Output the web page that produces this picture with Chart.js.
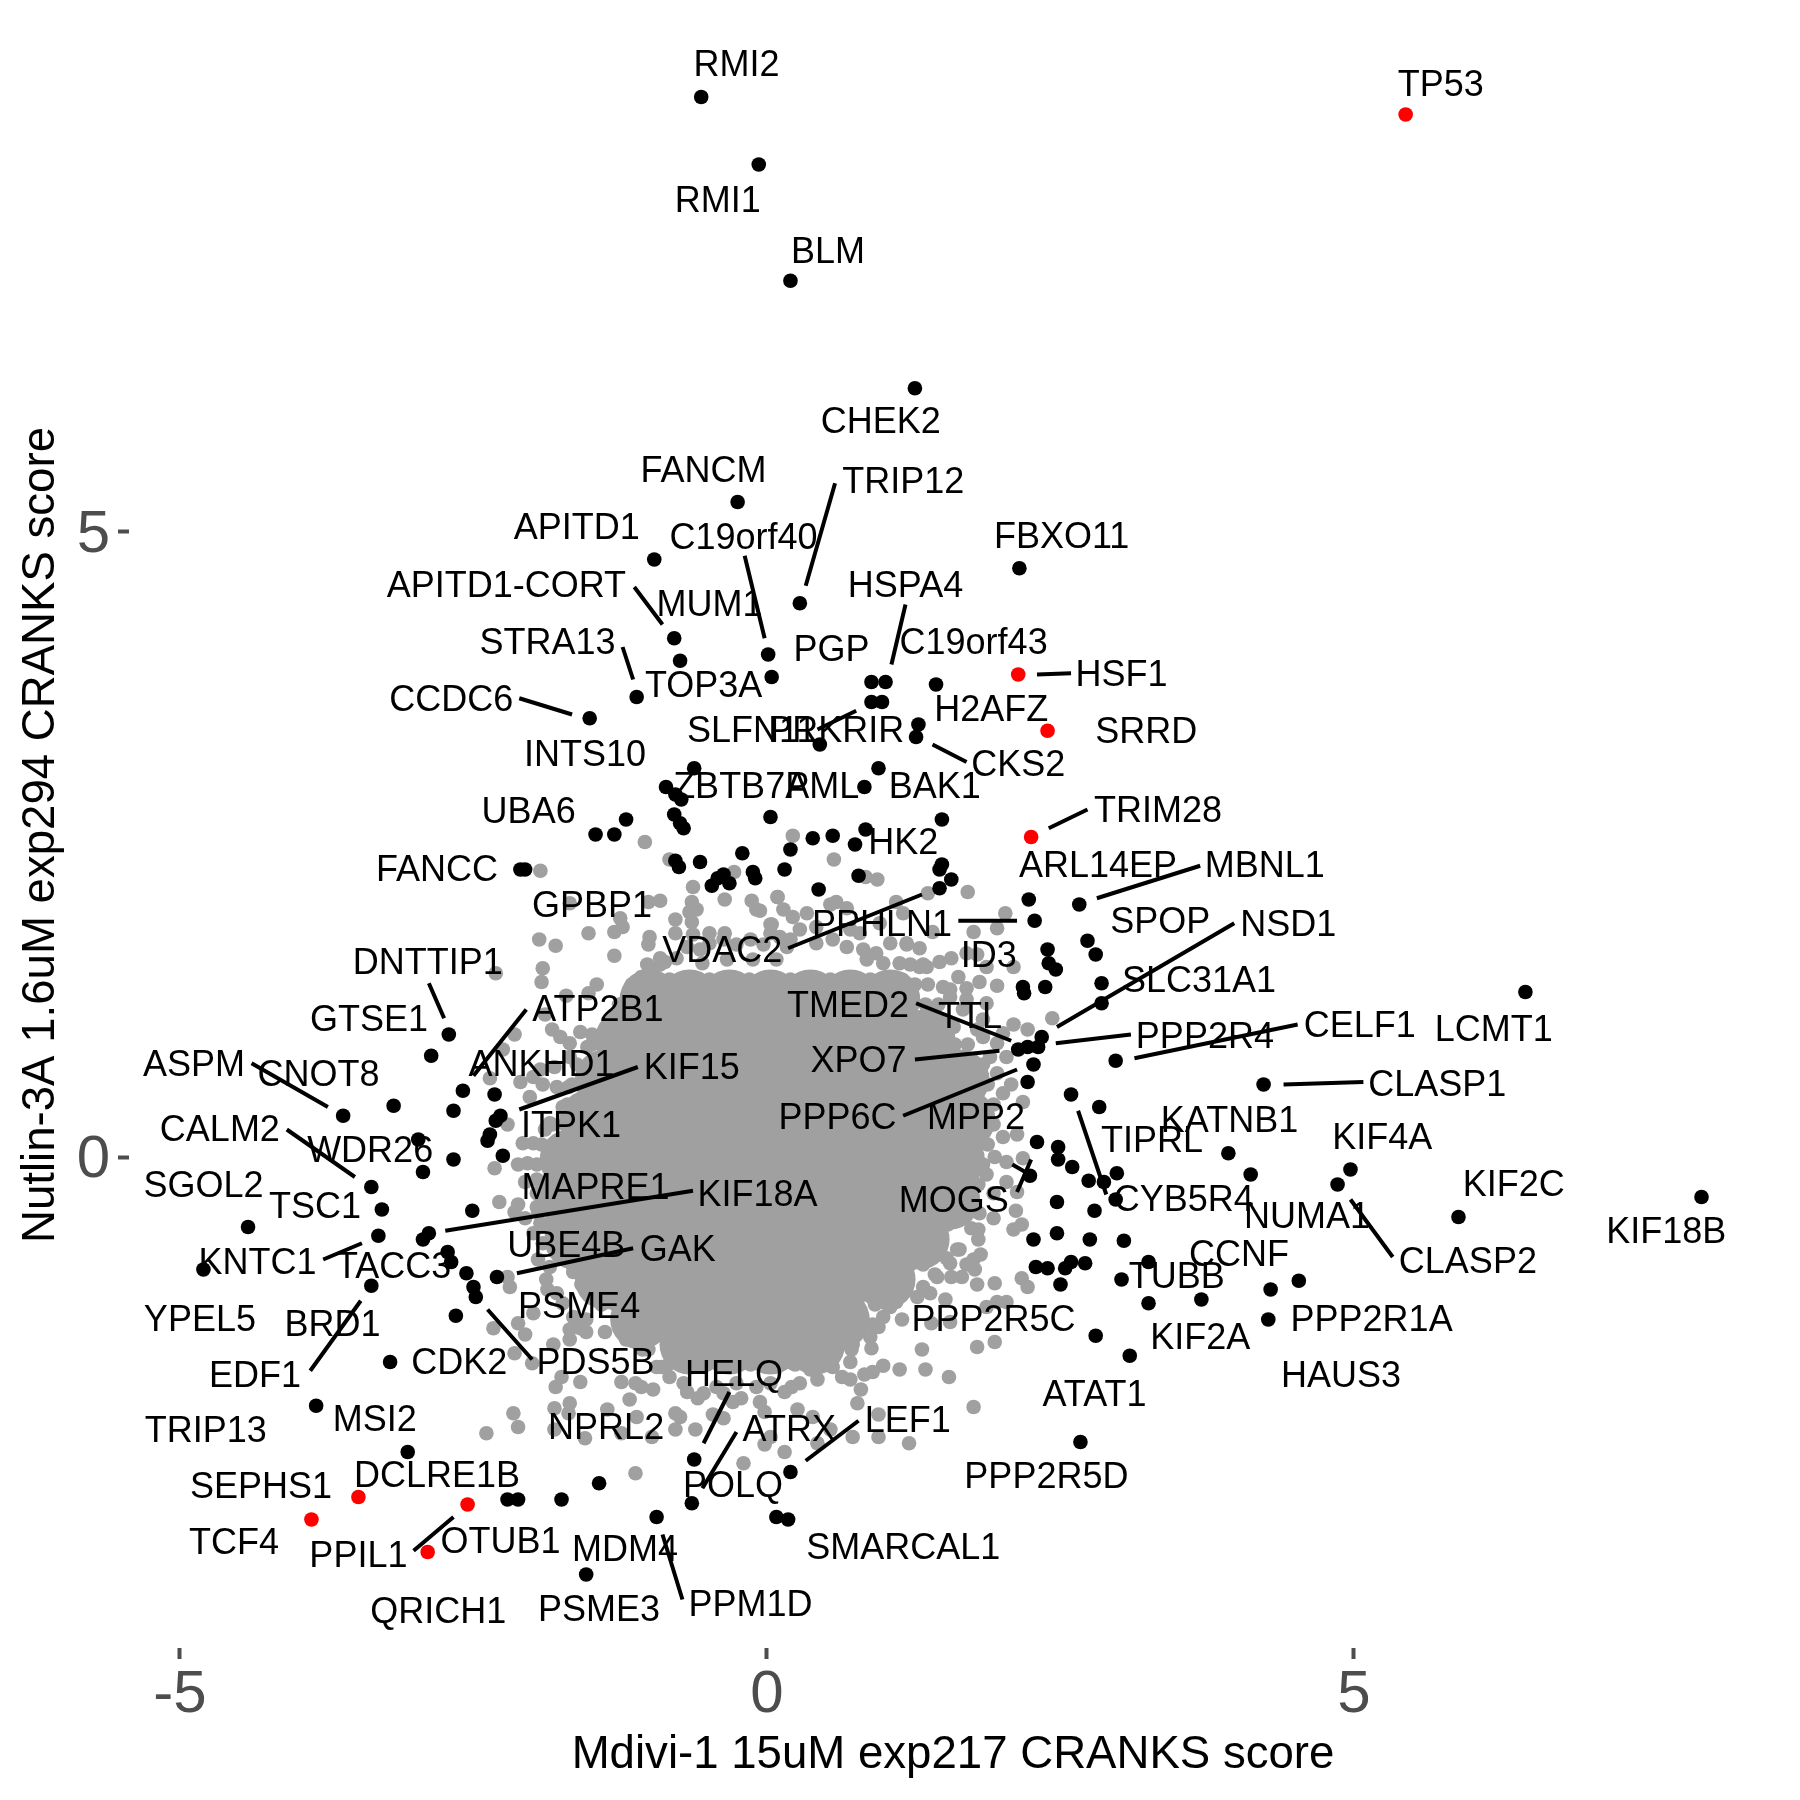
<!DOCTYPE html>
<html>
<head>
<meta charset="utf-8">
<title>CRANKS scores</title>
<script src="https://cdn.jsdelivr.net/npm/chart.js"></script>
<style>
body { margin: 0; background: #fff; }
canvas { display: block; }
</style>
</head>
<body>
<canvas id="scores" width="1800" height="1800"></canvas>
<script>
var xTickValues = [-5, 0, 5];
var yTickValues = [0, 5];
var xTitle = "Mdivi-1 15uM exp217 CRANKS score";
var yTitle = "Nutlin-3A 1.6uM exp294 CRANKS score";

// dense middle of the cloud, single genes cannot be read there, so these are coarse fill dots
var coreX = [-1.00,-0.66,-0.32,0.03,0.37,0.71,1.05,
	-1.21,-0.87,-0.53,-0.19,0.15,0.49,0.83,1.18,1.35,
	-1.38,-1.04,-0.70,-0.36,-0.02,0.32,0.66,1.01,1.35,1.64,
	-1.51,-1.17,-0.83,-0.49,-0.14,0.20,0.54,0.88,1.22,1.56,1.69,
	-1.68,-1.34,-1.00,-0.66,-0.32,0.03,0.37,0.71,1.05,1.39,1.60,
	-1.68,-1.34,-1.00,-0.66,-0.32,0.03,0.37,0.71,1.05,1.39,1.56,
	-1.64,-1.29,-0.95,-0.61,-0.27,0.07,0.41,0.75,1.09,1.30,
	-1.38,-1.04,-0.70,-0.36,-0.02,0.32,0.66,1.01,
	-1.08,-0.74,-0.40,-0.06,0.28,0.62,
	-0.66,-0.32,0.03,0.41];
var coreY = [1.26,1.26,1.26,1.26,1.26,1.26,1.26,
	0.94,0.94,0.94,0.94,0.94,0.94,0.94,0.94,0.94,
	0.62,0.62,0.62,0.62,0.62,0.62,0.62,0.62,0.62,0.62,
	0.30,0.30,0.30,0.30,0.30,0.30,0.30,0.30,0.30,0.30,0.30,
	-0.02,-0.02,-0.02,-0.02,-0.02,-0.02,-0.02,-0.02,-0.02,-0.02,-0.02,
	-0.34,-0.34,-0.34,-0.34,-0.34,-0.34,-0.34,-0.34,-0.34,-0.34,-0.34,
	-0.66,-0.66,-0.66,-0.66,-0.66,-0.66,-0.66,-0.66,-0.66,-0.66,
	-0.98,-0.98,-0.98,-0.98,-0.98,-0.98,-0.98,-0.98,
	-1.30,-1.30,-1.30,-1.30,-1.30,-1.30,
	-1.50,-1.50,-1.50,-1.50];

// rim of the solid area
var edgeX = [-1.02,-0.91,1.33,1.22,-1.15,-1.04,1.37,1.26,-1.26,-1.15,1.46,1.35,-1.32,-1.21,1.54,1.43,-1.49,-1.38,1.71,1.60,-1.62,-1.51,1.84,1.73,
	-1.66,-1.55,1.88,1.77,-1.70,-1.59,1.93,1.81,-1.83,-1.72,1.93,1.81,-1.92,-1.81,1.88,1.77,-1.96,-1.85,1.84,1.73,-1.87,-1.76,1.80,1.69,
	-1.92,-1.81,1.71,1.60,-1.90,-1.79,1.54,1.43,-1.79,-1.68,1.46,1.35,-1.66,-1.55,1.33,1.22,-1.58,-1.47,1.16,1.05,-1.41,-1.29,1.03,0.92,
	-1.19,-1.08,0.90,0.79,-0.81,-0.70,0.73,0.62,-0.51,-0.40,-0.27,-0.14,-0.02,0.11,0.24,0.37,
	-0.83,-0.49,-0.15,0.20,0.54,0.88,1.15,
	-0.87,-0.77,-0.68,-0.57,-0.49,-0.37,-0.26,-0.14,-0.03,0.11,0.17,-0.55,-0.34,-0.12,0.08,
	0.22,0.34,0.28,0.42,0.56,0.68,0.82,0.93,1.05,1.19,0.85,0.99,1.13,1.30,0.20,0.42,0.71,0.79,0.96,0.03,
	-1.88,-1.79,-1.74,-1.65,-1.54,-1.68,-1.85,-1.20,-1.06,-0.94,-0.83,-0.71,-0.54,-0.37,-0.26,-0.09,0.03,
	0.22,0.37,0.54,0.88,1.05,1.28,1.33,1.45,1.56,1.62,
	1.84,1.90,1.67,1.56,1.79,
	-1.68,-1.53,-1.93,-1.79,-1.85,-1.99,-2.04,-1.96,-1.96,-1.96,-1.93,-1.91];
var edgeY = [1.54,1.54,1.54,1.54,1.38,1.38,1.38,1.38,1.22,1.22,1.22,1.22,1.06,1.06,1.06,1.06,0.90,0.90,0.90,0.90,0.74,0.74,0.74,0.74,
	0.58,0.58,0.58,0.58,0.42,0.42,0.42,0.42,0.26,0.26,0.26,0.26,0.10,0.10,0.10,0.10,-0.06,-0.06,-0.06,-0.06,-0.22,-0.22,-0.22,-0.22,
	-0.38,-0.38,-0.38,-0.38,-0.54,-0.54,-0.54,-0.54,-0.70,-0.70,-0.70,-0.70,-0.86,-0.86,-0.86,-0.86,-1.02,-1.02,-1.02,-1.02,-1.18,-1.18,-1.18,-1.18,
	-1.34,-1.34,-1.34,-1.34,-1.50,-1.50,-1.50,-1.50,-1.66,-1.66,-1.66,-1.66,-1.66,-1.66,-1.66,-1.66,
	1.42,1.42,1.42,1.42,1.42,1.42,1.42,
	1.56,1.59,1.68,1.66,1.71,1.74,1.70,1.74,1.70,1.76,1.68,1.55,1.58,1.58,1.58,
	1.92,1.95,1.82,1.84,1.74,1.68,1.66,1.63,1.71,1.70,1.58,1.55,1.55,1.52,1.74,1.71,1.82,1.79,1.87,1.79,
	-0.98,-1.09,-1.17,-1.28,-1.30,-1.38,-0.88,-1.46,-1.54,-1.68,-1.65,-1.81,-1.89,-1.89,-1.81,-1.84,-1.81,
	-1.65,-1.70,-1.60,-1.44,-1.20,-1.12,-1.04,-0.96,-0.85,-0.74,
	0.96,0.80,1.18,1.34,1.02,
	0.80,0.88,0.70,0.56,0.27,0.11,-0.05,-0.18,-0.29,-0.40,-0.53,-0.69];

var greyX = [-1.04,-0.83,-1.93,-0.63,-0.28,-0.36,-0.91,-1.68,-1.01,-0.64,-0.66,-0.60,-0.78,-0.64,-1.25,-1.23,-1.30,-1.52,-1.94,-1.80,
	-1.30,-1.00,-1.01,-0.78,-0.63,-0.49,-0.36,-0.13,-0.06,0.09,0.04,-1.91,-1.92,-2.31,-1.45,-1.52,-1.71,-1.07,-1.00,-0.91,
	-1.83,-1.76,-2.15,-1.68,-1.59,-1.49,-1.37,-1.31,-1.89,-2.25,-2.36,-2.10,-1.99,-1.91,-2.02,-1.69,-1.81,-2.21,-2.08,-1.89,-1.68,-1.74,
	0.22,0.57,0.84,0.94,1.37,1.71,0.09,0.14,-0.09,0.03,0.59,0.54,0.68,1.10,1.16,2.03,1.96,1.76,1.41,1.30,1.19,1.57,1.47,1.36,1.70,1.79,1.87,2.10,
	1.63,1.81,1.96,1.50,1.70,1.56,1.70,1.87,2.43,2.10,2.22,1.84,2.01,1.59,1.96,2.04,1.96,2.08,2.18,2.01,2.13,2.01,
	1.94,2.04,2.18,2.04,1.87,2.13,1.93,2.12,1.93,1.81,1.66,2.17,2.10,1.74,1.80,1.80,1.64,1.82,1.76,1.70,1.77,1.53,1.57,1.66,1.79,1.94,2.17,2.22,
	1.43,1.39,1.52,1.87,1.96,2.04,1.15,1.40,1.56,1.10,1.32,1.79,1.94,0.99,0.95,0.89,0.72,0.71,0.54,1.13,1.35,1.55,0.99,0.90,0.83,0.71,0.64,0.56,0.47,0.43,0.30,0.28,0.21,0.15,
	0.80,0.77,0.95,1.76,0.73,0.95,1.21,0.54,-0.06,-0.02,0.26,0.39,0.03,-0.02,0.15,0.43,
	-2.32,-2.12,-2.06,-2.28,-2.12,-2.15,-2.06,-1.95,-1.99,-1.95,-2.21,-2.19,-1.87,-1.99,-2.12,-2.33,-2.06,-2.15,-2.00,-1.82,-1.75,-1.80,-1.59,-1.68,-1.59,-1.54,-1.38,-1.65,
	-1.81,-1.68,-1.69,-2.16,-2.12,-2.39,-1.81,-1.55,-1.36,-1.24,-1.12,-1.07,-0.97,-1.17,-1.11,-1.24,-0.98,-0.78,-0.74,-0.78,-0.61,-0.46,-0.37,-0.68,-0.59,-0.43,-0.22,-0.29,-0.20,-0.83,-0.90,-1.01,-1.12];
var greyY = [2.52,2.38,2.29,2.16,2.28,2.06,2.05,2.03,2.04,2.04,1.96,1.98,1.90,1.88,1.91,1.84,1.80,1.79,1.74,1.69,
	1.61,1.76,1.70,1.79,1.78,1.79,1.79,2.05,1.97,2.08,1.86,1.51,1.40,1.47,1.38,1.31,1.29,1.44,1.50,1.59,
	1.02,0.96,0.98,0.91,1.00,0.98,0.99,1.12,1.14,0.86,0.63,0.60,0.64,0.58,0.48,0.56,0.72,0.26,0.11,0.22,0.14,0.40,
	2.57,2.38,2.24,2.22,2.11,2.12,2.08,1.98,1.98,1.86,2.04,2.02,1.99,2.04,1.95,1.95,1.83,1.80,1.80,1.67,1.71,1.59,1.56,1.52,1.63,1.62,1.52,1.52,
	1.44,1.40,1.37,1.36,1.35,1.28,1.26,1.23,1.11,1.06,1.02,1.10,0.99,1.04,0.91,0.80,0.67,0.58,0.44,0.51,0.18,0.16,
	0.00,-0.04,-0.01,-0.20,-0.14,-0.28,-0.29,-0.43,-0.49,-0.45,-0.48,-0.54,-0.58,-0.57,-0.58,-0.66,-0.74,-0.78,-0.82,-0.86,-0.90,-0.81,-0.96,-0.96,-1.02,-1.01,-0.97,-1.04,
	-0.94,-1.09,-1.14,-1.20,-1.16,-1.16,-1.30,-1.33,-1.32,-1.16,-1.54,-1.52,-1.48,-1.28,-1.36,-1.53,-1.54,-1.64,-1.52,-1.70,-1.70,-1.76,-1.67,-1.72,-1.74,-1.78,-1.76,-1.68,-1.62,-1.78,-1.65,-1.81,-1.84,-1.88,
	-1.86,-1.97,-2.06,-2.00,-2.24,-2.24,-2.29,-2.18,-1.96,-2.04,-2.02,-2.08,-2.24,-2.30,-2.36,-2.29,
	-0.09,-0.06,-0.20,-0.36,-0.38,-0.44,-0.49,-0.44,-0.61,-0.82,-0.96,-1.04,-1.06,-1.25,-1.33,-1.37,-1.42,-1.57,-1.65,-1.50,-1.76,-1.84,-1.80,-1.46,-1.37,-1.40,-1.40,-0.92,
	-2.01,-1.97,-2.05,-2.05,-2.16,-2.21,-2.18,-2.25,-2.02,-1.80,-1.81,-1.84,-1.86,-1.94,-2.08,-2.21,-2.24,-2.05,-2.08,-2.18,-2.18,-2.06,-2.09,-1.88,-1.93,-1.84,-1.93,-1.96,-2.45,-1.76,-1.68,-1.54,-2.53];

var blackX = [-0.56,-0.07,0.20,1.26,-0.25,-0.96,0.28,2.15,-0.79,-0.74,0.01,0.04,-1.11,-1.51,0.89,1.01,0.89,0.98,1.44,1.29,1.27,0.45,-0.62,0.95,-0.86,-0.78,-0.73,0.83,-0.79,-0.74,-0.71,-1.20,-1.46,-1.30,0.03,1.49,0.84,0.39,0.56,0.75,0.20,-0.21,-0.57,-0.78,-0.75,0.15,-0.12,-0.10,-0.37,-0.42,-0.47,-0.32,-2.10,-2.06,1.49,1.47,0.78,1.57,1.47,0.44,
	2.23,2.66,2.28,2.73,2.80,2.39,2.40,2.46,2.18,2.19,2.37,2.85,2.85,6.46,2.14,2.22,2.31,2.34,2.27,2.22,2.97,4.23,2.59,2.83,3.93,4.12,2.30,2.48,2.48,2.60,2.74,2.87,2.98,2.97,2.24,2.47,2.79,2.27,2.47,2.75,3.04,2.29,2.39,2.54,2.59,2.71,2.50,3.25,3.02,3.25,3.70,2.80,3.09,2.67,4.97,4.86,5.89,7.96,4.29,4.53,4.27,0.20,0.08,0.18,
	-2.71,-2.86,-2.59,-2.32,-2.67,-3.18,-3.61,-2.27,-2.31,-2.36,-2.38,-2.97,-2.67,-2.93,-2.25,-3.37,-3.28,-2.51,-4.42,-3.31,-2.88,-2.93,-4.80,-2.72,-2.69,-2.56,-2.30,-2.50,-2.48,-3.37,-2.65,-3.21,-3.84,-3.06,-2.21,-2.12,-1.75,-1.43,-0.62,-0.64,-0.94,-1.54];
var blackY = [8.48,7.94,7.01,6.15,5.24,4.78,4.43,4.71,4.15,3.97,4.02,3.84,3.68,3.51,3.80,3.80,3.64,3.64,3.78,3.46,3.36,3.30,3.11,3.11,2.96,2.90,2.86,2.96,2.74,2.67,2.63,2.70,2.58,2.58,2.72,2.70,2.62,2.55,2.57,2.50,2.46,2.43,2.36,2.37,2.32,2.30,2.28,2.23,2.26,2.23,2.17,2.19,2.30,2.30,2.34,2.30,2.25,2.22,2.15,2.14,
	2.06,2.02,1.89,1.73,1.62,1.66,1.55,1.50,1.36,1.31,1.36,1.39,1.23,1.32,0.86,0.88,0.88,0.96,0.74,0.60,0.77,0.58,0.50,0.40,0.03,-0.14,0.12,0.08,-0.02,-0.08,-0.19,-0.20,-0.13,-0.34,-0.15,-0.36,-0.43,-0.66,-0.61,-0.66,-0.67,-0.88,-0.89,-0.89,-0.84,-0.85,-1.02,-0.84,-0.98,-1.17,-1.14,-1.43,-1.59,-2.28,-0.10,-0.22,-0.48,-0.32,-1.06,-0.99,-1.30,-2.52,-2.88,-2.90,
	0.98,0.81,0.53,0.50,0.37,0.41,0.33,0.33,0.29,0.18,0.13,0.14,-0.02,-0.12,0.01,-0.24,-0.42,-0.43,-0.56,-0.63,-0.61,-0.66,-0.90,-0.76,-0.84,-0.93,-0.96,-1.04,-1.12,-1.03,-1.27,-1.64,-1.99,-2.36,-2.74,-2.74,-2.74,-2.61,-2.42,-2.77,-2.88,-3.34];

var redX = [5.44,2.14,2.39,2.25,-3.48,-3.88,-2.55,-2.89];
var redY = [8.34,3.86,3.41,2.56,-2.72,-2.90,-2.78,-3.16];

var labelNames = ["RMI2","TP53","RMI1","BLM","CHEK2","FANCM","TRIP12","APITD1","C19orf40","FBXO11","APITD1-CORT","HSPA4","MUM1","STRA13","C19orf43","PGP","HSF1","TOP3A","CCDC6","H2AFZ","SLFN11","PRKRIR","SRRD","INTS10","CKS2","ZBTB7A","PML","BAK1","UBA6","TRIM28","HK2","ARL14EP","MBNL1","FANCC","GPBP1","SPOP","PPHLN1","NSD1","VDAC2","ID3","DNTTIP1","SLC31A1","TMED2","TTL","GTSE1","ATP2B1","CELF1","LCMT1","PPP2R4","XPO7","ASPM","KIF15","ANKHD1","CNOT8","CLASP1","PPP6C","MPP2","KATNB1","ITPK1","CALM2","TIPRL","KIF4A","WDR26","KIF2C","SGOL2","MAPRE1","KIF18A","CYB5R4","MOGS","TSC1","NUMA1","KIF18B","KNTC1","CCNF","GAK","UBE4B","TACC3","CLASP2","TUBB","PSME4","YPEL5","PPP2R5C","PPP2R1A","BRD1","KIF2A","CDK2","PDS5B","EDF1","HELQ","HAUS3","ATAT1","MSI2","LEF1","TRIP13","ATRX","NPRL2","PPP2R5D","DCLRE1B","SEPHS1","POLQ","OTUB1","TCF4","PPIL1","MDM4","SMARCAL1","PPM1D","PSME3","QRICH1"];
var labelX = [-0.26,5.74,-0.42,0.52,0.97,-0.54,1.16,-1.62,-0.20,2.51,-2.22,1.18,-0.49,-1.87,1.76,0.55,3.02,-0.54,-2.69,1.91,-0.13,0.59,3.23,-1.55,2.14,-0.22,0.47,1.43,-2.03,3.33,1.16,2.82,4.24,-2.81,-1.49,3.35,0.98,4.44,-0.38,1.89,-2.89,3.68,0.69,1.73,-3.39,-1.44,5.05,6.19,3.73,0.78,-4.88,-0.64,-1.92,-3.82,5.71,0.60,1.78,3.94,-1.67,-4.66,3.28,5.24,-3.38,6.36,-4.80,-1.46,-0.08,3.55,1.59,-3.85,4.60,7.66,-4.34,4.02,-0.76,-1.71,-3.18,5.97,3.49,-1.60,-4.83,1.93,5.15,-3.70,3.69,-2.62,-1.46,-4.36,-0.28,4.89,2.79,-3.34,1.20,-4.78,0.19,-1.37,2.38,-2.81,-4.31,-0.29,-2.27,-4.54,-3.48,-1.21,1.16,-0.14,-1.43,-2.80];
var labelY = [8.75,8.59,7.66,7.25,5.89,5.50,5.41,5.04,4.96,4.97,4.58,4.58,4.43,4.12,4.12,4.07,3.87,3.78,3.67,3.59,3.42,3.42,3.41,3.23,3.15,2.97,2.97,2.97,2.77,2.78,2.52,2.34,2.34,2.31,2.02,1.89,1.87,1.87,1.66,1.62,1.56,1.42,1.22,1.13,1.11,1.19,1.06,1.03,0.97,0.78,0.75,0.72,0.75,0.67,0.59,0.32,0.32,0.30,0.26,0.23,0.14,0.16,0.06,-0.21,-0.22,-0.24,-0.29,-0.33,-0.34,-0.39,-0.47,-0.59,-0.84,-0.77,-0.73,-0.70,-0.87,-0.83,-0.95,-1.19,-1.29,-1.29,-1.29,-1.33,-1.44,-1.64,-1.64,-1.74,-1.73,-1.74,-1.89,-2.09,-2.10,-2.18,-2.17,-2.16,-2.55,-2.54,-2.63,-2.62,-3.07,-3.08,-3.18,-3.13,-3.12,-3.57,-3.61,-3.63];

// label connector lines, start and end in score units
var segX1 = [0.58,-0.19,-1.13,-1.23,-2.11,1.18,2.30,0.76,1.41,2.40,0.18,1.63,2.81,3.98,-2.88,-2.05,-1.10,1.27,1.26,1.16,2.46,3.13,4.40,-4.39,-4.09,-2.74,-3.78,-2.13,-3.89,-2.38,-0.32,-0.26,0.78,-2.67,-0.89,2.65,2.25,2.09,4.97];
var segY1 = [5.39,4.81,4.56,4.08,3.67,4.42,3.86,3.57,3.30,2.63,1.67,1.89,2.07,1.87,1.39,1.18,0.72,1.23,0.78,0.33,0.91,0.79,0.58,0.75,0.22,-0.59,-0.82,-0.93,-1.71,-1.22,-1.88,-2.20,-2.11,-2.88,-3.02,0.37,-0.02,-0.06,-0.34];
var segX2 = [0.33,-0.02,-0.89,-1.14,-1.66,1.06,2.59,0.43,1.70,2.73,1.32,2.13,3.69,2.47,-2.75,-2.50,-2.11,2.08,1.98,2.13,3.10,4.52,5.08,-3.74,-3.51,-0.63,-3.45,-1.14,-3.46,-2.00,-0.54,-0.55,0.33,-3.01,-0.72,2.89,2.13,2.20,5.33];
var segY2 = [4.57,4.15,4.26,3.82,3.54,3.94,3.87,3.42,3.16,2.78,2.10,1.89,2.33,1.04,1.11,0.65,0.38,0.93,0.85,0.70,0.98,1.06,0.60,0.40,-0.16,-0.27,-0.69,-0.73,-1.15,-1.62,-2.29,-2.65,-2.43,-3.15,-3.54,-0.30,-0.28,-0.12,-0.80];

function toPoints(xs, ys) {
	var points = [];
	for (var i in xs) {
		points.push({x: xs[i], y: ys[i]});
	}
	return points;
}

var segPoints = [];
for (var i in segX1) {
	segPoints.push({x: segX1[i], y: segY1[i]});
	segPoints.push({x: segX2[i], y: segY2[i]});
	segPoints.push({x: segX2[i], y: null});
}

var geneLabels = {
	id: "geneLabels",
	afterDatasetsDraw: function(chart) {
		var c = chart.ctx;
		c.save();
		c.font = "36px 'Liberation Sans'";
		c.fillStyle = "#000000";
		c.textAlign = "center";
		c.textBaseline = "middle";
		for (var i in labelNames) {
			c.fillText(labelNames[i], chart.scales.x.getPixelForValue(labelX[i]), chart.scales.y.getPixelForValue(labelY[i]) + 2.5);
		}
		c.restore();
	}
};

var ctx = document.getElementById("scores");

var scatterChart = new Chart(ctx, {
	type: "scatter",
	data: {
		datasets: [
			{
				label: "dense",
				data: toPoints(coreX, coreY),
				backgroundColor: "#a0a0a0",
				pointRadius: 30,
				pointBorderWidth: 0,
				order: 6
			},
			{
				label: "rim",
				data: toPoints(edgeX, edgeY),
				backgroundColor: "#a0a0a0",
				pointRadius: 7.3,
				pointBorderWidth: 0,
				order: 5
			},
			{
				label: "other genes",
				data: toPoints(greyX, greyY),
				backgroundColor: "#a0a0a0",
				pointRadius: 7.3,
				pointBorderWidth: 0,
				order: 4
			},
			{
				label: "hits",
				data: toPoints(blackX, blackY),
				backgroundColor: "#000000",
				pointRadius: 7.3,
				pointBorderWidth: 0,
				order: 3
			},
			{
				label: "highlighted",
				data: toPoints(redX, redY),
				backgroundColor: "#ff0000",
				pointRadius: 7.3,
				pointBorderWidth: 0,
				order: 2
			},
			{
				label: "connectors",
				data: segPoints,
				showLine: true,
				spanGaps: false,
				borderColor: "#000000",
				borderWidth: 4,
				pointRadius: 0,
				order: 1
			}
		]
	},
	options: {
		responsive: false,
		animation: false,
		events: [],
		layout: {padding: {top: 22, right: 23, left: 0, bottom: 0}, autoPadding: false},
		plugins: {legend: {display: false}, tooltip: {enabled: false}},
		scales: {
			x: {
				type: "linear",
				min: -5.434,
				max: 8.603,
				afterBuildTicks: function(axis) {
					axis.ticks = xTickValues.map(function(v) { return {value: v}; });
				},
				afterFit: function(axis) { axis.height = 152; },
				border: {display: false},
				grid: {drawOnChartArea: false, drawTicks: true, tickLength: 11, tickWidth: 4, tickColor: "#4d4d4d"},
				ticks: {
					font: {family: "Liberation Sans", size: 60},
					color: "#4d4d4d",
					padding: 0,
					maxRotation: 0,
					autoSkip: false,
					callback: function(v) { return String(v); }
				},
				title: {
					display: true,
					text: xTitle,
					color: "#000000",
					font: {family: "Liberation Sans", size: 45.6},
					padding: {top: 0, bottom: 17}
				}
			},
			y: {
				type: "linear",
				min: -3.928,
				max: 9.08,
				afterBuildTicks: function(axis) {
					axis.ticks = yTickValues.map(function(v) { return {value: v}; });
				},
				afterFit: function(axis) {
					axis.width = 129;
					axis.paddingTop = 0;
					axis.paddingBottom = 0;
				},
				border: {display: false},
				grid: {drawOnChartArea: false, drawTicks: true, tickLength: 11, tickWidth: 4, tickColor: "#4d4d4d"},
				ticks: {
					font: {family: "Liberation Sans", size: 60},
					color: "#4d4d4d",
					padding: 8,
					labelOffset: 3,
					autoSkip: false,
					callback: function(v) { return String(v); }
				},
				title: {
					display: true,
					text: yTitle,
					color: "#000000",
					font: {family: "Liberation Sans", size: 45.6},
					padding: {top: 14, bottom: 0}
				}
			}
		}
	},
	plugins: [geneLabels]
});
</script>
</body>
</html>
